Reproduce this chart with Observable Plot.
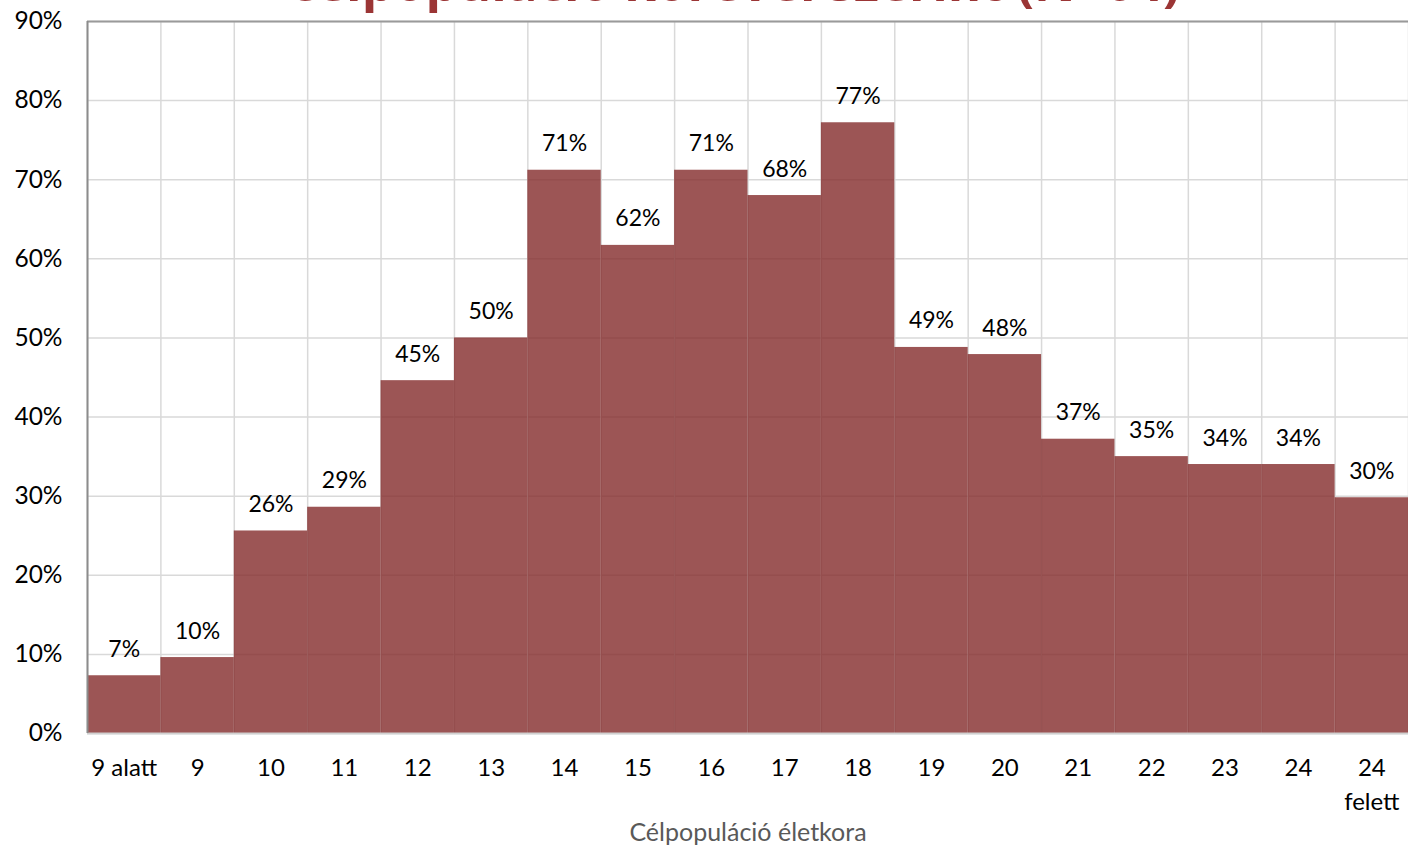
<!DOCTYPE html>
<html>
<head>
<meta charset="utf-8">
<script src="https://cdn.jsdelivr.net/npm/d3@7"></script>
<script src="https://cdn.jsdelivr.net/npm/@observablehq/plot@0.6"></script>
<style>
  html, body { margin: 0; padding: 0; background: #fff; overflow: hidden; }
  #wrap { position: relative; width: 1408px; height: 847px; overflow: hidden; }
  #title { position: absolute; left: 0; top: -44px; width: 1470px; text-align: center;
    font-family: "Open Sans", sans-serif; font-weight: 700; font-size: 51px; line-height: 51px;
    color: #9b3535; white-space: nowrap; }
  #chart { position: absolute; left: 0; top: 0; }
</style>
</head>
<body>
<div id="wrap">
  <div id="chart"></div>
  <div id="title">célpopuláció korévei szerint (N=64)</div>
</div>
<script>
const categories = ["9 alatt", "9", "10", "11", "12", "13", "14", "15", "16", "17", "18", "19", "20", "21", "22", "23", "24", "24\nfelett"];
const values = [0.073, 0.096, 0.256, 0.286, 0.446, 0.500, 0.712, 0.617, 0.712, 0.680, 0.772, 0.488, 0.479, 0.372, 0.350, 0.340, 0.340, 0.298];
const yTicks = [0, 0.1, 0.2, 0.3, 0.4, 0.5, 0.6, 0.7, 0.8, 0.9];
const xTitle = "Célpopuláció életkora";

const data = categories.map((c, i) => ({i, category: c, value: values[i]}));
const bounds = d3.range(categories.length + 1);
const fmt = d3.format(".0%");
const font = "Lato, sans-serif";

const chart = Plot.plot({
  width: 1408,
  height: 847,
  marginLeft: 87,
  marginRight: 0,
  marginTop: 21,
  marginBottom: 114,
  style: {fontFamily: font, background: "#fff"},
  x: {type: "linear", domain: [0, categories.length], axis: null},
  y: {domain: [0, 0.9], axis: null},
  marks: [
    Plot.ruleY(yTicks, {stroke: "#d9d9d9", strokeWidth: 1.5}),
    Plot.ruleX(bounds, {stroke: "#d9d9d9", strokeWidth: 1.5}),
    Plot.rectY(data, {x1: "i", x2: d => d.i + 1, y: "value", fill: "#832a2a", fillOpacity: 0.8, inset: 0}),
    Plot.ruleY([0.9], {stroke: "#9a9a9a", strokeWidth: 2}),
    Plot.ruleY([0], {stroke: "#d0d0d0", strokeWidth: 2}),
    Plot.ruleX([0], {stroke: "#8c8c8c", strokeWidth: 2}),
    Plot.text(data, {x: d => d.i + 0.5, y: "value", text: d => fmt(d.value), lineAnchor: "bottom", dy: -19, fontSize: 23, fill: "#000", fontFamily: font}),
    Plot.text(yTicks, {x: 0, y: d => d, text: d => fmt(d), textAnchor: "end", dx: -25, fontSize: 24.5, fill: "#000", fontFamily: font}),
    Plot.text(data, {x: d => d.i + 0.5, y: 0, text: "category", lineAnchor: "top", dy: 19, fontSize: 24, lineHeight: 1.4, fill: "#000", fontFamily: font}),
    Plot.text([xTitle], {frameAnchor: "bottom", dy: 107, fontSize: 25, fill: "#595959", fontFamily: font})
  ]
});
document.getElementById("chart").appendChild(chart);
</script>
</body>
</html>
